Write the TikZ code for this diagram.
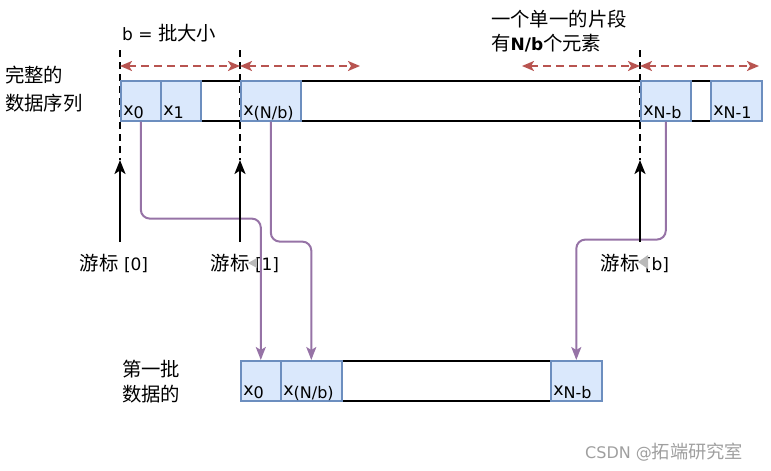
\documentclass[tikz,border=0pt]{standalone}
\usepackage{fontspec}
\setmainfont{DejaVu Sans}
\newfontfamily\cjk{Noto Sans CJK SC}[Scale=1.14]
\usetikzlibrary{arrows.meta}
\definecolor{cellfill}{HTML}{DAE8FC}
\definecolor{celldraw}{HTML}{6C8EBF}
\definecolor{redarr}{HTML}{B85450}
\definecolor{purp}{HTML}{9673A6}
\newcommand\sbs[1]{\raisebox{-3pt}{\fontsize{16}{17}\selectfont #1}}
\tikzset{
  cell/.style={draw=celldraw, fill=cellfill, line width=1.6pt, minimum height=40pt,
    inner ysep=0pt, inner xsep=2.5pt, text width=#1, align=left, anchor=north west,
    text height=30pt, text depth=0pt, font=\fontsize{17.5}{20}\selectfont},
  rowbox/.style={draw=black, line width=1.6pt, minimum height=40pt, inner sep=0pt, anchor=north west},
  guide/.style={draw=black, line width=2pt, dash pattern=on 7pt off 5pt},
  span/.style={draw=redarr, line width=2pt, dash pattern=on 8pt off 5pt,
    {Stealth[length=12pt,width=10pt,inset=3pt]}-{Stealth[length=12pt,width=10pt,inset=3pt]}},
  cursor/.style={draw=black, line width=2pt, -{Stealth[length=14pt,width=11pt,inset=3.5pt]}},
  move/.style={draw=purp, line width=2pt, rounded corners=9pt, -{Stealth[length=13pt,width=10pt,inset=3pt]}},
  txt/.style={inner sep=0pt, align=left}
}
\begin{document}
\begin{tikzpicture}[x=1pt,y=-1pt,font=\fontsize{17}{20}\selectfont]
\useasboundingbox (0,0) rectangle (771,471);

% texts
\node[txt, anchor=west] (bsize) at (122,33) {b = {\cjk 批大小}};
\node[txt, anchor=west, font=\fontsize{17}{28}\selectfont] (full) at (5,89) {{\cjk 完整的}\\{\cjk 数据序列}};
\node[txt, anchor=west, font=\fontsize{17}{24}\selectfont] (seg) at (491,31) {{\cjk 一个单一的片段}\\{\cjk 有}\textbf{N/b}{\cjk 个元素}};
\node[txt, anchor=west, font=\fontsize{17}{25}\selectfont] (first) at (122,382) {{\cjk 第一批}\\{\cjk 数据的}};

% guide lines
\coordinate (g0a) at (120,50); \coordinate (g0b) at (120,160);
\coordinate (g1a) at (240,50); \coordinate (g1b) at (240,160);
\coordinate (g2a) at (640,50); \coordinate (g2b) at (640,160);
\draw[guide] (g0a) -- (g0b);
\draw[guide] (g1a) -- (g1b);
\draw[guide] (g2a) -- (g2b);

% span arrows
\coordinate (s0) at (120,66); \coordinate (s1) at (240,66); \coordinate (s2) at (360,66);
\coordinate (s3) at (522,66); \coordinate (s4) at (640,66); \coordinate (s5) at (759,66);
\draw[span] (s0) -- (s1);
\draw[span] (s1) -- (s2);
\draw[span] (s3) -- (s4);
\draw[span] (s4) -- (s5);

% full sequence
\node[rowbox, minimum width=641pt] (row1) at (120,80) {};
\node[cell=35pt] (t0) at (120,80) {x\sbs{0}};
\node[cell=35pt] (t1) at (160,80) {x\sbs{1}};
\node[cell=55pt] (tN) at (240,80) {x\sbs{(N/b)}};
\node[cell=45pt] (tNb) at (640,80) {x\sbs{N-b}};
\node[cell=46pt] (tN1) at (710,80) {x\sbs{N-1}};

% first batch
\node[rowbox, minimum width=361pt] (row2) at (240,360) {};
\node[cell=35pt] (b0) at (240,360) {x\sbs{0}};
\node[cell=56pt] (bN) at (280,360) {x\sbs{(N/b)}};
\node[cell=46pt] (bNb) at (550,360) {x\sbs{N-b}};

% purple moves
\draw[move] (t0.south) -- ++(0,97) -| (b0.north);
\draw[move] (tN.south) -- ++(0,120) -| (bN.north);
\draw[move] (tNb.south) -- ++(0,118) -| (bNb.north);

% cursors
\node[txt] (cur0) at (114,263) {{\cjk 游标} [0]};
\node[txt] (cur1) at (245,263) {{\cjk 游标} [1]};
\node[txt] (curb) at (635,263) {{\cjk 游标} [b]};
\coordinate (c0a) at (120,242); \coordinate (c0b) at (120,160);
\coordinate (c1a) at (240,242); \coordinate (c1b) at (240,160);
\coordinate (c2a) at (640,242); \coordinate (c2b) at (640,160);
\draw[cursor] (c0a) -- (c0b);
\draw[cursor] (c1a) -- (c1b);
\draw[cursor] (c2a) -- (c2b);

% small grey marks
\fill[gray!55] (248,263) -- (257,258) -- (257,268) -- cycle;
\fill[gray!55] (638,262) -- (648,255) -- (648,269) -- cycle;

% watermark
\node[txt, anchor=west, text=gray!75, font=\fontsize{16}{18}\selectfont] (wm) at (585,452) {CSDN @{\cjk 拓端研究室}};
\end{tikzpicture}
\end{document}
